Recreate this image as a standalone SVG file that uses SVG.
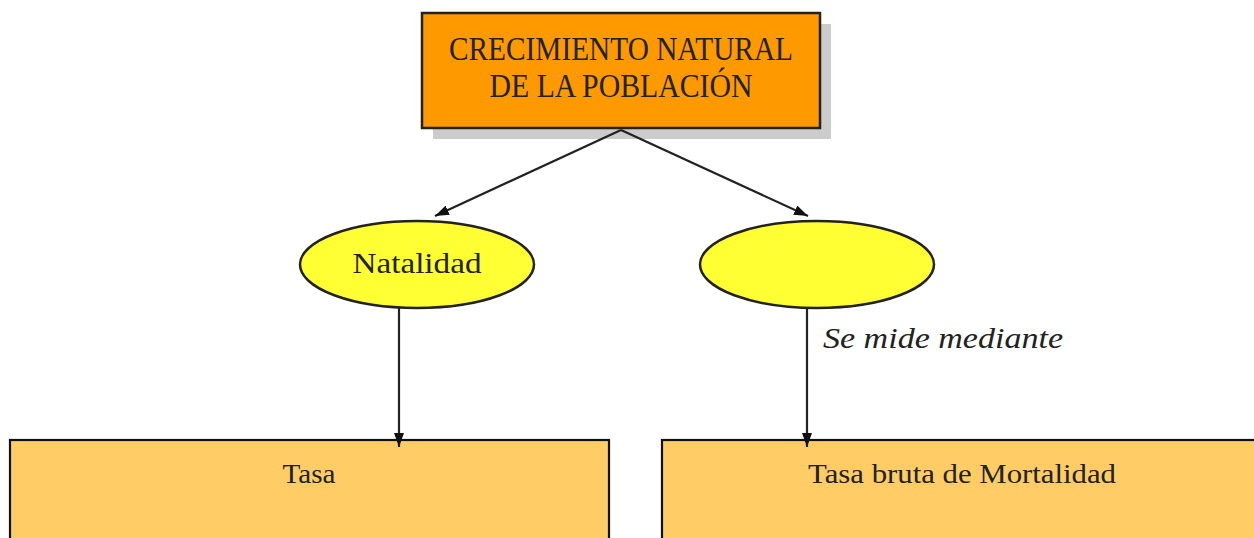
<svg xmlns="http://www.w3.org/2000/svg" width="1254" height="538" viewBox="0 0 1254 538">
<style>
.t{font-family:"Liberation Serif","DejaVu Serif",serif;fill:#222;}
.ln{stroke:#222;stroke-width:2.2;fill:none;}
.ell{fill:#FFFF33;stroke:#222;stroke-width:2.5;}
.box{fill:#FFCC66;stroke:#111;stroke-width:2.2;}
</style>
<defs>
<marker id="ah" viewBox="0 0 14 10" refX="14" refY="5" markerWidth="14" markerHeight="10" markerUnits="userSpaceOnUse" orient="auto">
<path d="M0,0 L14,5 L0,10 Z" fill="#111"/>
</marker>
</defs>
<rect width="1254" height="538" fill="#fff"/>
<g id="top">
<rect x="433" y="24" width="398" height="115" fill="#cccccc"/>
<rect x="422" y="13" width="398" height="115" fill="#FF9900" stroke="#222" stroke-width="2.5"/>
<text class="t" x="621" y="60" font-size="34" text-anchor="middle" textLength="344" lengthAdjust="spacingAndGlyphs">CRECIMIENTO NATURAL</text>
<text class="t" x="621" y="97" font-size="34" text-anchor="middle" textLength="263" lengthAdjust="spacingAndGlyphs">DE LA POBLACIÓN</text>
</g>
<g id="natalidad">
<ellipse class="ell" cx="417" cy="264.5" rx="117" ry="43.5"/>
<text class="t" x="417" y="273" font-size="30" text-anchor="middle" textLength="129" lengthAdjust="spacingAndGlyphs">Natalidad</text>
</g>
<g id="mortalidad">
<ellipse class="ell" cx="817" cy="264.5" rx="117" ry="43.5"/>
</g>
<g id="tasa">
<rect class="box" x="10" y="440" width="599" height="110"/>
<text class="t" x="309" y="483" font-size="28" text-anchor="middle" textLength="53" lengthAdjust="spacingAndGlyphs">Tasa</text>
</g>
<g id="tasa-mortalidad">
<rect class="box" x="662" y="440" width="610" height="110"/>
<text class="t" x="962" y="483" font-size="28" text-anchor="middle" textLength="308" lengthAdjust="spacingAndGlyphs">Tasa bruta de Mortalidad</text>
</g>
<g id="connectors">
<line class="ln" x1="621" y1="130" x2="435" y2="216" marker-end="url(#ah)"/>
<line class="ln" x1="621" y1="130" x2="808" y2="216" marker-end="url(#ah)"/>
<line class="ln" x1="399" y1="308" x2="399" y2="447" marker-end="url(#ah)"/>
<line class="ln" x1="807" y1="308" x2="807" y2="447" marker-end="url(#ah)"/>
<text class="t" x="823" y="348" font-size="29" font-style="italic" textLength="240" lengthAdjust="spacingAndGlyphs">Se mide mediante</text>
</g>
</svg>
